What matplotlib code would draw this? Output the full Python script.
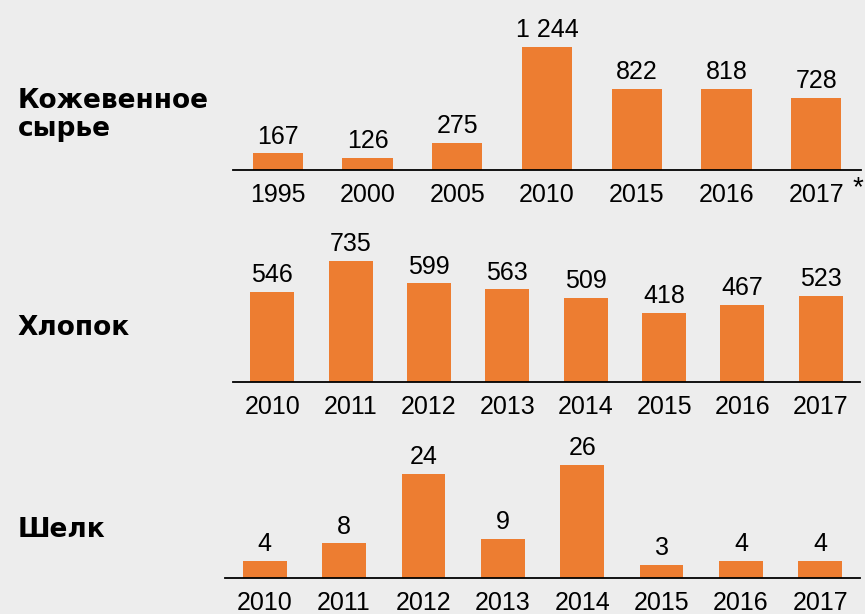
import matplotlib
matplotlib.use("Agg")
import matplotlib.pyplot as plt

# Data
leather_years = ["1995", "2000", "2005", "2010", "2015", "2016", "2017"]
leather_vals = [167, 126, 275, 1244, 822, 818, 728]

cotton_years = ["2010", "2011", "2012", "2013", "2014", "2015", "2016", "2017"]
cotton_vals = [546, 735, 599, 563, 509, 418, 467, 523]

silk_years = ["2010", "2011", "2012", "2013", "2014", "2015", "2016", "2017"]
silk_vals = [4, 8, 24, 9, 26, 3, 4, 4]

titles = ["Кожевенное\nсырье", "Хлопок", "Шелк"]

BG = "#EDEDED"
BAR = "#ED7D31"
W, H = 865, 614

fig = plt.figure(figsize=(W / 100, H / 100), dpi=100, facecolor=BG)


def fmt(v):
    return f"{v:,}".replace(",", " ")


# panel specs: (left px, right px, baseline px from top, top px, bar px for max, bar width)
specs = [
    (233, 861, 170, 8, 123, 0.56),
    (233, 860, 382, 228, 121, 0.56),
    (225, 860, 578, 428, 113, 0.55),
]
datasets = [(leather_years, leather_vals), (cotton_years, cotton_vals), (silk_years, silk_vals)]
title_y = [115, 328, 530]

for (l, r, base, top, barpx, bw), (yrs, vals), t, ty in zip(specs, datasets, titles, title_y):
    ax = fig.add_axes([l / W, 1 - base / H, (r - l) / W, (base - top) / H])
    ax.set_facecolor(BG)
    x = list(range(len(yrs)))
    ax.bar(x, vals, width=bw, color=BAR)
    ax.set_xlim(-0.5, len(yrs) - 0.5)
    ax.set_ylim(0, max(vals) * (base - top) / barpx)
    for xi, v in zip(x, vals):
        ax.annotate(fmt(v), (xi, v), xytext=(0, 7), textcoords="offset points",
                    ha="center", va="baseline", fontsize=18, family="Liberation Sans")
    ax.set_xticks(x)
    ax.set_xticklabels(yrs, fontsize=18, family="Liberation Sans")
    ax.tick_params(axis="x", length=0, pad=9)
    ax.set_yticks([])
    for s in ["top", "left", "right"]:
        ax.spines[s].set_visible(False)
    ax.spines["bottom"].set_linewidth(1.3)
    ax.spines["bottom"].set_color("black")
    fig.text(18 / W, 1 - ty / H, t, ha="left", va="center", fontsize=19,
             fontweight="bold", family="DejaVu Sans", linespacing=1.15)

fig.text(858 / W, 1 - 188 / H, "*", ha="center", va="center", fontsize=20,
         family="Liberation Sans")

fig.savefig("out.png", dpi=100, facecolor=BG)
